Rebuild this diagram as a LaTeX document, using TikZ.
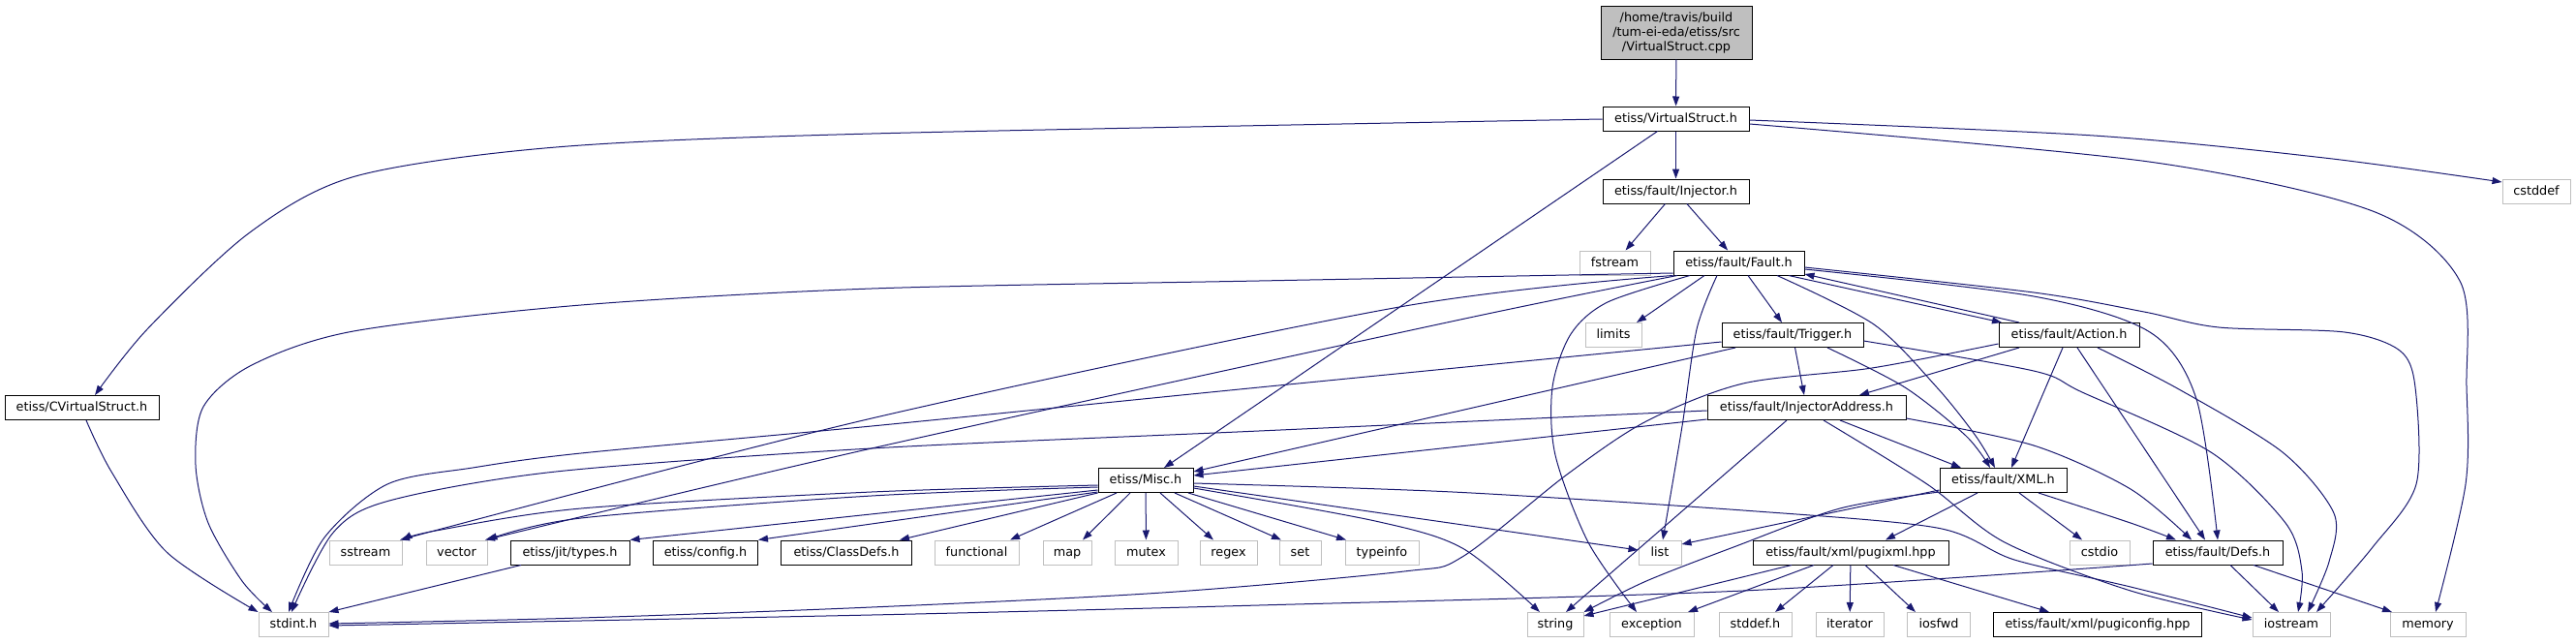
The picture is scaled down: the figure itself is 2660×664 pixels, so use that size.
\documentclass[tikz,border=0pt]{standalone}
\usepackage{fontspec}
\newfontfamily\dv{DejaVu Sans}
\usetikzlibrary{arrows.meta}
\definecolor{edgec}{HTML}{191970}
\definecolor{extgrey}{HTML}{BFBFBF}
\definecolor{rootgrey}{HTML}{BFBFBF}
\tikzset{
  box/.style={line width=1pt, minimum height=25pt, inner sep=0pt, text height=9.6pt, text depth=2.6pt, font=\dv\fontsize{12.8}{15}\selectfont},
  doc/.style={box, draw=black},
  ext/.style={box, draw=extgrey},
  rootbox/.style={draw=black, fill=rootgrey, line width=1pt, minimum height=55pt, inner sep=0pt, align=center, font=\dv\fontsize{12.8}{15}\selectfont},
  e/.style={draw=edgec, line width=1pt, -{Triangle[length=10pt,width=7pt]}},
}
\begin{document}
\begin{tikzpicture}[x=1pt,y=-1pt]
\useasboundingbox (0,0) rectangle (2660,664);
% nodes
\node[rootbox, minimum width=156pt] (root) at (1731,33.5) {/home/travis/build\\/tum-ei-eda/etiss/src\\/VirtualStruct.cpp};
\node[doc, minimum width=151pt] (vs) at (1730.5,122.5) {etiss/VirtualStruct.h};
\node[doc, minimum width=151pt] (inj) at (1730.5,197.5) {etiss/fault/Injector.h};
\node[ext, minimum width=70pt] (cstddef) at (2619,197.5) {cstddef};
\node[ext, minimum width=73pt] (fstream) at (1667.5,271.5) {fstream};
\node[doc, minimum width=135pt] (fault) at (1795.5,271.5) {etiss/fault/Fault.h};
\node[ext, minimum width=58pt] (limits) at (1666,346) {limits};
\node[doc, minimum width=146pt] (trig) at (1851,346) {etiss/fault/Trigger.h};
\node[doc, minimum width=145pt] (action) at (2136.5,346) {etiss/fault/Action.h};
\node[doc, minimum width=159pt] (cvs) at (84.5,421) {etiss/CVirtualStruct.h};
\node[doc, minimum width=205pt] (injaddr) at (1865.5,421) {etiss/fault/InjectorAddress.h};
\node[doc, minimum width=98pt] (misc) at (1183,496) {etiss/Misc.h};
\node[doc, minimum width=131pt] (xml) at (2068.5,496) {etiss/fault/XML.h};
\node[ext, minimum width=75pt] (sstream) at (377.5,570.5) {sstream};
\node[ext, minimum width=63pt] (vector) at (471.5,570.5) {vector};
\node[doc, minimum width=123pt] (jit) at (588.5,570.5) {etiss/jit/types.h};
\node[doc, minimum width=108pt] (config) at (728.5,570.5) {etiss/config.h};
\node[doc, minimum width=135pt] (classdefs) at (874,570.5) {etiss/ClassDefs.h};
\node[ext, minimum width=87pt] (functional) at (1008.5,570.5) {functional};
\node[ext, minimum width=50pt] (map) at (1102,570.5) {map};
\node[ext, minimum width=65pt] (mutex) at (1183.5,570.5) {mutex};
\node[ext, minimum width=59pt] (regex) at (1268.5,570.5) {regex};
\node[ext, minimum width=43pt] (set) at (1342.5,570.5) {set};
\node[ext, minimum width=76pt] (typeinfo) at (1427,570.5) {typeinfo};
\node[ext, minimum width=44pt] (list) at (1714,570.5) {list};
\node[doc, minimum width=202pt] (pugixml) at (1911,570.5) {etiss/fault/xml/pugixml.hpp};
\node[ext, minimum width=62pt] (cstdio) at (2168,570.5) {cstdio};
\node[doc, minimum width=134pt] (defs) at (2290,570.5) {etiss/fault/Defs.h};
\node[ext, minimum width=72pt] (stdint) at (303,645) {stdint.h};
\node[ext, minimum width=58pt] (string) at (1606,645) {string};
\node[ext, minimum width=87pt] (exception) at (1705.5,645) {exception};
\node[ext, minimum width=75pt] (stddef) at (1812.5,645) {stddef.h};
\node[ext, minimum width=70pt] (iterator) at (1910,645) {iterator};
\node[ext, minimum width=64.5pt] (iosfwd) at (2002,645) {iosfwd};
\node[doc, minimum width=214.5pt] (pugiconfig) at (2166,645) {etiss/fault/xml/pugiconfig.hpp};
\node[ext, minimum width=80pt] (iostream) at (2366,645) {iostream};
\node[ext, minimum width=78pt] (memory) at (2507,645) {memory};
% VirtualStruct.h
\draw[e] (root) -- (vs);
\draw[e] plot[smooth] coordinates {(vs.west |- 0,123) (900,138) (574,152) (367,182) (258,240) (152,340) (cvs.north -| 98,0)};
\draw[e] (vs) -- (misc);
\draw[e] (vs) -- (inj);
\draw[e] plot[smooth] coordinates {(vs.east |- 0,124) (2162,140) (2400,163) (cstddef.west |- 0,188)};
\draw[e] plot[smooth] coordinates {(vs.east |- 0,128) (2219,167) (2450,218) (2540,290) (2547,400) (2546,500) (memory.north -| 2515,0)};
% Injector.h
\draw[e] (inj) -- (fstream);
\draw[e] (inj) -- (fault);
% Fault.h
\draw[e] plot[smooth] coordinates {(fault.west |- 0,282) (1300,290) (900,298) (600,315) (365,342) (260,377) (210,420) (202,480) (215,540) (250,600) (stdint.north -| 281,0)};
\draw[e] plot[smooth] coordinates {(fault.south west) (1445,317) (900,432) (sstream.north -| 413,0)};
\draw[e] plot[smooth] coordinates {(fault.south -| 1732,0) (1508,330) (900,463) (vector.north -| 501,0)};
\draw[e] plot[smooth] coordinates {(fault.south -| 1745,0) (1660,312) (1622,345) (1603,400) (1606,470) (1640,560) (exception.north -| 1690,0)};
\draw[e] (fault.south -| 1760,0) -- (limits.north -| 1690,0);
\draw[e] plot[smooth] coordinates {(fault.south -| 1773,0) (1752,340) (1737,440) (list.north -| 1717,0)};
\draw[e] (fault.south -| 1805,0) -- (trig.north -| 1840,0);
\draw[e] plot[smooth] coordinates {(fault.south -| 1835,0) (1935,335) (2000,400) (2040,450) (xml.north -| 2060,0)};
\draw[e] (fault.south -| 1847,0) -- (action.north -| 2067,0);
\draw[e] plot[smooth] coordinates {(fault.east |- 0,278) (2100,306) (2220,343) (2268,412) (defs.north -| 2290,0)};
\draw[e] plot[smooth] coordinates {(fault.east |- 0,276) (2100,302) (2214,322) (2291,338) (2421,343) (2478,362) (2494,400) (2495,500) (2450,565) (iostream.north -| 2392,0)};
% Trigger.h
\draw[e] plot[smooth] coordinates {(trig.west |- 0,353) (1300,400) (900,440) (600,468) (488,483) (400,500) (335,555) (stdint.north -| 298,0)};
\draw[e] (trig.south -| 1792,0) -- (misc.east |- 0,487);
\draw[e] (trig) -- (injaddr);
\draw[e] plot[smooth] coordinates {(trig.south -| 1887,0) (1967,400) (2030,450) (xml.north -| 2055,0)};
\draw[e] plot[smooth] coordinates {(trig.east |- 0,352) (2100,383) (2150,405) (2283,467) (2360,540) (2377,590) (iostream.north -| 2373,0)};
% Action.h
\draw[e] plot[smooth] coordinates {(action.west |- 0,355) (1933,380) (1800,396) (1700,435) (1618,490) (1510,575) (1450,590) (1200,612) (900,627) (600,638) (stdint.east |- 0,644)};
\draw[e] (action.south -| 2085,0) -- (injaddr.north -| 1920,0);
\draw[e] (action.south -| 2130,0) -- (xml.north -| 2077,0);
\draw[e] (action.south -| 2145,0) -- (defs.north -| 2277,0);
\draw[e] plot[smooth] coordinates {(action.south -| 2166,0) (2250,402) (2357,467) (2410,530) (2405,580) (iostream.north -| 2383,0)};
\draw[e] (action.north -| 2085,0) -- (fault.east |- 0,283);
% InjectorAddress.h
\draw[e] plot[smooth] coordinates {(injaddr.west |- 0,424) (1300,445) (900,463) (574,487) (402,517) (344,550) (stdint.north -| 301,0)};
\draw[e] (injaddr.west |- 0,433) -- (misc.east |- 0,491);
\draw[e] (injaddr.south -| 1845,0) -- (string.north -| 1617,0);
\draw[e] plot[smooth] coordinates {(injaddr.south -| 1883,0) (1990,500) (2070,560) (2200,610) (iostream.west |- 0,640)};
\draw[e] (injaddr.south -| 1900,0) -- (xml.north -| 2025,0);
\draw[e] plot[smooth] coordinates {(injaddr.east |- 0,432) (2100,460) (2200,505) (defs.north -| 2263,0)};
% XML.h
\draw[e] (xml.west |- 0,506) -- (list.east |- 0,562);
\draw[e] plot[smooth] coordinates {(xml.west |- 0,508) (1900,525) (1790,565) (1700,600) (string.north east)};
\draw[e] (xml.south -| 2042,0) -- (pugixml.north -| 1947,0);
\draw[e] (xml.south -| 2085,0) -- (cstdio.north -| 2150,0);
\draw[e] plot[smooth] coordinates {(xml.south -| 2105,0) (2200,540) (defs.north -| 2247,0)};
% pugixml.hpp
\draw[e] (pugixml.south -| 1850,0) -- (string.east |- 0,636);
\draw[e] (pugixml.south -| 1873,0) -- (exception.north -| 1743,0);
\draw[e] (pugixml.south -| 1893,0) -- (stddef.north -| 1833,0);
\draw[e] (pugixml) -- (iterator);
\draw[e] (pugixml.south -| 1926,0) -- (iosfwd.north -| 1978,0);
\draw[e] (pugixml.south -| 1955,0) -- (pugiconfig.north -| 2116,0);
% Defs.h
\draw[e] plot[smooth] coordinates {(defs.west |- 0,582) (1800,610) (1300,625) (900,635) (stdint.east |- 0,646)};
\draw[e] (defs.south -| 2303,0) -- (iostream.north -| 2353,0);
\draw[e] (defs.south -| 2327,0) -- (memory.north -| 2470,0);
% Misc.h
\draw[e] plot[smooth] coordinates {(misc.west |- 0,501) (900,508) (600,525) (450,548) (sstream.north east)};
\draw[e] plot[smooth] coordinates {(misc.west |- 0,503) (900,512) (600,535) (vector.north east)};
\draw[e] (misc.west |- 0,506) -- (jit.north east);
\draw[e] (misc.west |- 0,508) -- (config.north east);
\draw[e] (misc.south west) -- (classdefs.north -| 929,0);
\draw[e] (misc.south -| 1153,0) -- (functional.north -| 1043,0);
\draw[e] (misc.south -| 1167,0) -- (map.north -| 1118,0);
\draw[e] (misc) -- (mutex);
\draw[e] (misc.south -| 1198,0) -- (regex.north -| 1253,0);
\draw[e] (misc.south -| 1213,0) -- (set.north -| 1323,0);
\draw[e] (misc.south -| 1227,0) -- (typeinfo.north -| 1390,0);
\draw[e] (misc.east |- 0,502) -- (list.west |- 0,568);
\draw[e] plot[smooth] coordinates {(misc.east |- 0,504) (1420,538) (1510,566) (string.north -| 1590,0)};
\draw[e] plot[smooth] coordinates {(misc.east |- 0,499) (1500,508) (1800,527) (2000,545) (2080,578) (2200,606) (iostream.west |- 0,638)};
% others
\draw[e] (jit.south -| 538,0) -- (stdint.north east);
\draw[e] plot[smooth] coordinates {(cvs.south -| 89,0) (115,487) (172,570) (stdint.north west)};
\end{tikzpicture}
\end{document}
